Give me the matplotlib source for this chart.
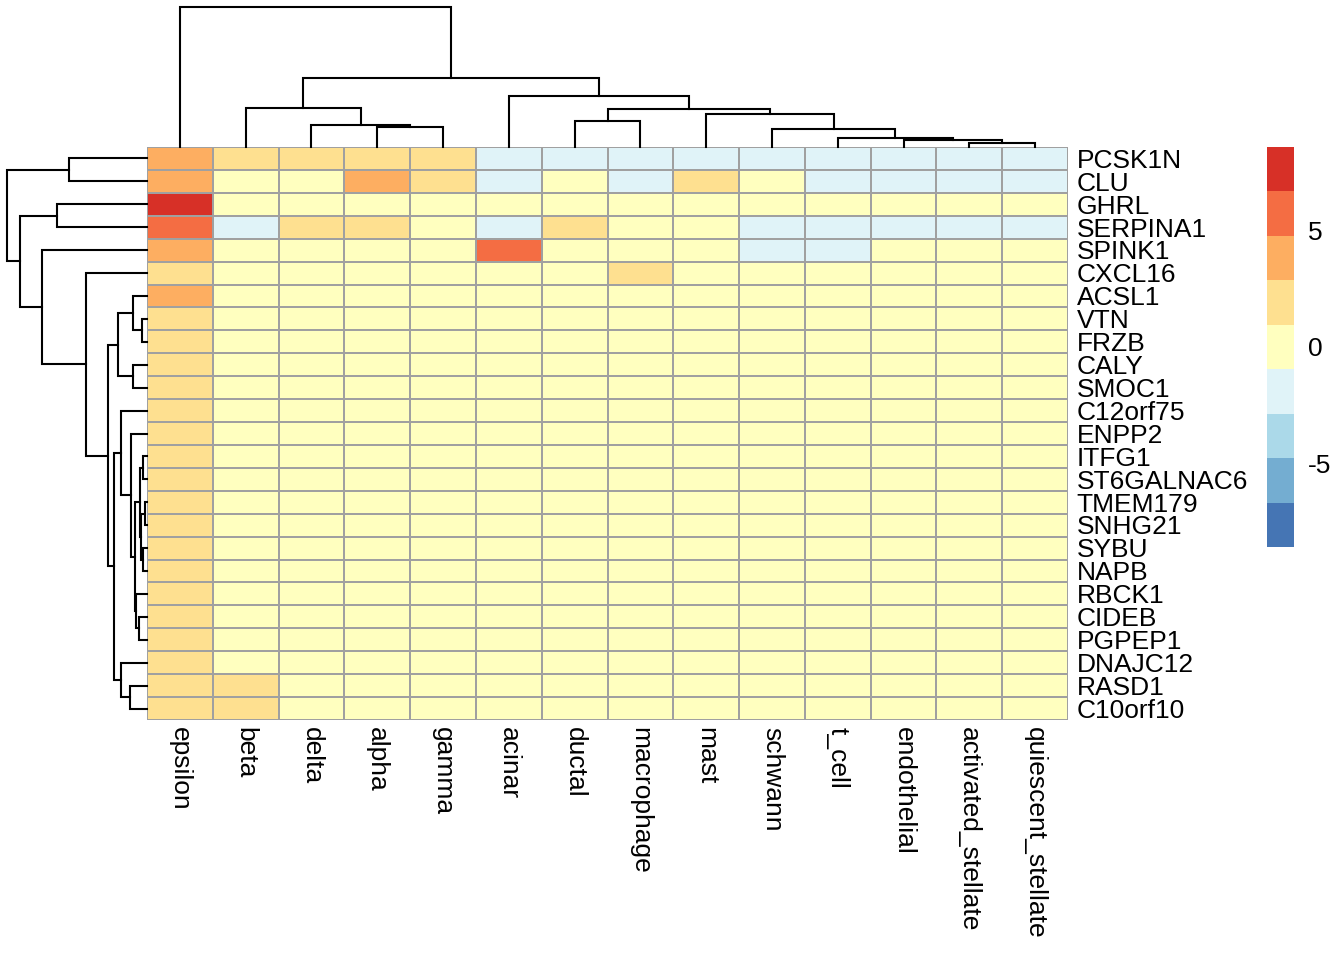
import numpy as np
import matplotlib
matplotlib.use("Agg")
import matplotlib.pyplot as plt
from matplotlib.colors import ListedColormap, BoundaryNorm

plt.rcParams['font.family'] = ['Liberation Sans', 'DejaVu Sans']

# data
genes = ["PCSK1N", "CLU", "GHRL", "SERPINA1", "SPINK1", "CXCL16", "ACSL1",
         "VTN", "FRZB", "CALY", "SMOC1", "C12orf75", "ENPP2", "ITFG1",
         "ST6GALNAC6", "TMEM179", "SNHG21", "SYBU", "NAPB", "RBCK1",
         "CIDEB", "PGPEP1", "DNAJC12", "RASD1", "C10orf10"]
cell_types = ["epsilon", "beta", "delta", "alpha", "gamma", "acinar", "ductal",
              "macrophage", "mast", "schwann", "t_cell", "endothelial",
              "activated_stellate", "quiescent_stellate"]

#            eps  beta delta alpha gamma acin duct macr mast schw tcel endo act  qui
pcsk1n   = [3.6, 1.9, 1.9, 1.9, 1.9, -1.5, -1.5, -1.5, -1.5, -1.5, -1.5, -1.5, -1.5, -1.5]
clu      = [3.6, 0.2, 0.2, 3.6, 1.9, -1.5, 0.2, -1.5, 1.9, 0.2, -1.5, -1.5, -1.5, -1.5]
ghrl     = [8.55, 0.1, 0.1, 0.1, 0.1, 0.1, 0.1, 0.1, 0.1, 0.1, 0.1, 0.1, 0.1, 0.1]
serpina1 = [5.6, -1.5, 1.9, 1.9, 0.2, -1.5, 1.9, 0.2, 0.2, -1.5, -1.5, -1.5, -1.5, -1.5]
spink1   = [3.6, 0.1, 0.1, 0.1, 0.1, 5.6, 0.1, 0.1, 0.1, -1.5, -1.5, 0.1, 0.1, 0.1]
cxcl16   = [1.9, 0.1, 0.1, 0.1, 0.1, 0.1, 0.1, 1.9, 0.1, 0.1, 0.1, 0.1, 0.1, 0.1]
acsl1    = [3.4, 0.1, 0.1, 0.1, 0.1, 0.1, 0.1, 0.1, 0.1, 0.1, 0.1, 0.1, 0.1, 0.1]
eps_only = [1.9, 0.1, 0.1, 0.1, 0.1, 0.1, 0.1, 0.1, 0.1, 0.1, 0.1, 0.1, 0.1, 0.1]
eps_beta = [1.9, 1.9, 0.1, 0.1, 0.1, 0.1, 0.1, 0.1, 0.1, 0.1, 0.1, 0.1, 0.1, 0.1]

values = np.array([pcsk1n, clu, ghrl, serpina1, spink1, cxcl16, acsl1]
                  + [eps_only] * 16 + [eps_beta] * 2)

# dendrograms: (left, right, height); ids >= n refer to earlier merges
col_merges = [(3, 4, 19.7), (2, 14, 22.0), (1, 15, 39.3), (12, 13, 3.7),
              (11, 17, 7.3), (10, 18, 8.7), (9, 19, 17.7), (8, 20, 32.7),
              (6, 7, 26.3), (22, 21, 37.7), (5, 23, 51.3), (16, 24, 69.3),
              (0, 25, 140.3)]
row_merges = [(7, 8, 4.8), (6, 25, 13.8), (9, 10, 14.2), (26, 27, 28.8),
              (13, 14, 3.8), (15, 16, 2.0), (17, 18, 3.5), (30, 31, 5.8),
              (29, 32, 7.2), (20, 21, 7.5), (19, 34, 10.8), (33, 35, 12.2),
              (12, 36, 15.5), (11, 37, 25.5), (23, 24, 16.5), (22, 39, 25.8),
              (38, 40, 33.2), (28, 41, 39.0), (5, 42, 61.2), (4, 43, 104.8),
              (2, 3, 89.2), (45, 44, 126.5), (0, 1, 78.2), (47, 46, 139.8)]

colors = ["#4575B4", "#74ADD1", "#ABD9E9", "#E0F3F8", "#FFFFBF",
          "#FEE090", "#FDAE61", "#F46D43", "#D73027"]
vmax = np.abs(values).max()
breaks = np.linspace(-vmax, vmax, len(colors) + 1)
cmap = ListedColormap(colors)
norm = BoundaryNorm(breaks, cmap.N)


def dendro_segments(merges, n):
    pos = {i: i + 0.5 for i in range(n)}
    hgt = {i: 0.0 for i in range(n)}
    segs = []
    for k, (a, b, h) in enumerate(merges):
        segs.append(([pos[a], pos[a], pos[b], pos[b]], [hgt[a], h, h, hgt[b]]))
        pos[n + k] = (pos[a] + pos[b]) / 2
        hgt[n + k] = h
    return segs


W, H = 1344, 960
fig = plt.figure(figsize=(W / 100, H / 100), dpi=100)

hx0, hx1, hy0, hy1 = 147, 1068, 147, 720
ax = fig.add_axes([hx0 / W, 1 - hy1 / H, (hx1 - hx0) / W, (hy1 - hy0) / H])
ax.pcolormesh(np.arange(len(cell_types) + 1), np.arange(len(genes) + 1), values,
              cmap=cmap, norm=norm, edgecolors="#A0A0A0", linewidth=1.1)
ax.set_xlim(0, len(cell_types))
ax.set_ylim(len(genes), 0)
ax.axis("off")

for i, g in enumerate(genes):
    ax.text(len(cell_types) + 0.13, i + 0.6, g, fontsize=19, ha="left",
            va="center")
for j, c in enumerate(cell_types):
    ax.text(j + 0.5, len(genes) + 0.3, c, fontsize=19, rotation=270,
            ha="center", va="top")

# column dendrogram
axc = fig.add_axes([hx0 / W, 1 - hy0 / H, (hx1 - hx0) / W, hy0 / H])
for xs, ys in dendro_segments(col_merges, len(cell_types)):
    axc.plot(xs, ys, color="black", lw=1.5, solid_joinstyle="miter",
             clip_on=False)
axc.set_xlim(0, len(cell_types))
axc.set_ylim(0, 147)
axc.axis("off")

# row dendrogram
axr = fig.add_axes([0, 1 - hy1 / H, hx0 / W, (hy1 - hy0) / H])
for ys, xs in dendro_segments(row_merges, len(genes)):
    axr.plot(xs, ys, color="black", lw=1.5, solid_joinstyle="miter",
             clip_on=False)
axr.set_xlim(146.5, 0)
axr.set_ylim(len(genes), 0)
axr.axis("off")

# legend
axl = fig.add_axes([1267 / W, 1 - 547 / H, 27 / W, 400 / H])
sm = plt.cm.ScalarMappable(norm=norm, cmap=cmap)
cb = fig.colorbar(sm, cax=axl, ticks=[-5, 0, 5])
cb.outline.set_visible(False)
cb.ax.minorticks_off()
cb.ax.tick_params(which="both", length=0, pad=10, labelsize=19)
cb.ax.set_yticklabels(["-5", "0", "5"])

fig.savefig("out.png", dpi=100)
